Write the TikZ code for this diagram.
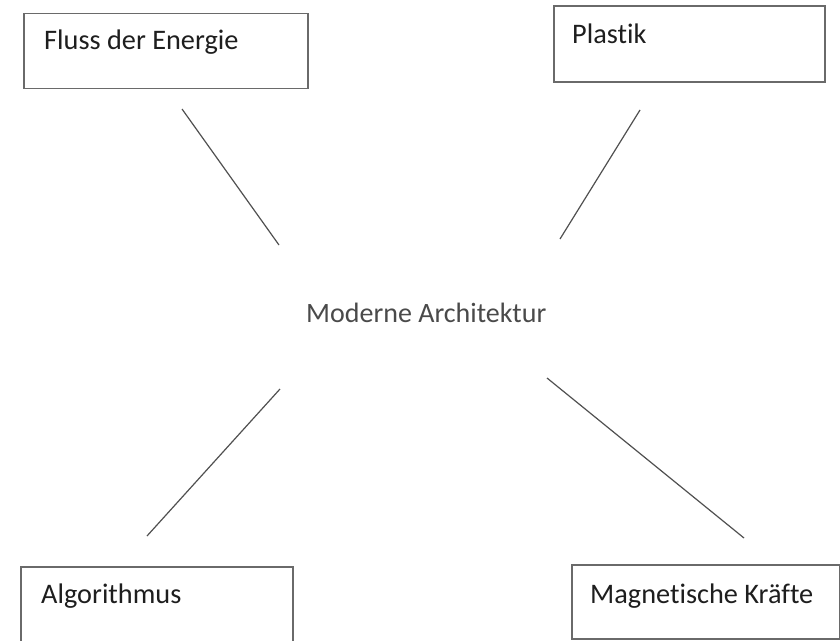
\documentclass[tikz,border=0pt]{standalone}
\usepackage{fontspec}
\setmainfont{Carlito}[Ligatures={NoCommon}]
\definecolor{boxline}{HTML}{6A6A6A}
\definecolor{conline}{HTML}{505050}
\definecolor{labeltext}{HTML}{1E1E1E}
\definecolor{centertext}{HTML}{4A4A4A}
\begin{document}
\begin{tikzpicture}[x=1pt,y=-1pt,
  topicbox/.style={draw=boxline, line width=1.5pt, fill=none, inner sep=0pt, anchor=north west},
  topiclabel/.style={anchor=base west, inner sep=0pt, text=labeltext, font=\fontsize{28.3}{34}\selectfont},
  centerlabel/.style={anchor=base west, inner sep=0pt, text=centertext, font=\fontsize{28}{34}\selectfont},
  connector/.style={draw=conline, line width=1.2pt}]
\useasboundingbox (0,0) rectangle (840,640);
\fill[white] (0,0) rectangle (840,640);

% boxes
\node[topicbox, minimum width=284pt, minimum height=75pt] (b1) at (23,12.7) {};
\node[topicbox, minimum width=271pt, minimum height=76pt] (b2) at (553,5) {};
\node[topicbox, minimum width=272pt, minimum height=90pt] (b3) at (20,566) {};
\node[topicbox, minimum width=268pt, minimum height=74pt] (b4) at (571,564) {};

% labels
\node[topiclabel] (t1) at (44,49) {Fluss der Energie};
\node[topiclabel] (t2) at (572,43) {Plastik};
\node[topiclabel] (t3) at (41,603) {Algorithmus};
\node[topiclabel] (t4) at (590,603) {Magnetische Kräfte};
\node[centerlabel] (c) at (306,322) {Moderne Architektur};

% connector end points
\coordinate (l1a) at (182,109);
\coordinate (l1b) at (279,245);
\coordinate (l2a) at (640,110);
\coordinate (l2b) at (560,239);
\coordinate (l3a) at (280,389);
\coordinate (l3b) at (147,536);
\coordinate (l4a) at (547,378);
\coordinate (l4b) at (744,538);

\draw[connector] (l1a) -- (l1b);
\draw[connector] (l2a) -- (l2b);
\draw[connector] (l3a) -- (l3b);
\draw[connector] (l4a) -- (l4b);
\end{tikzpicture}
\end{document}
